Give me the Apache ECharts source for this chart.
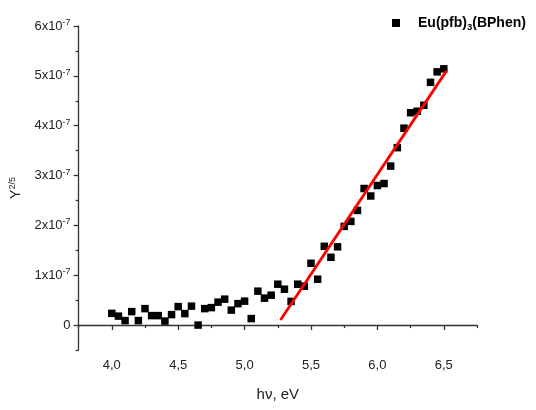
<!DOCTYPE html>
<html><head><meta charset="utf-8">
<script src="https://cdn.jsdelivr.net/npm/echarts@6/dist/echarts.min.js"></script>
<style>html,body{margin:0;padding:0;background:#fff}#c{width:536px;height:410px}</style>
</head><body><div id="c"></div>
<script>
// photon energy, eV
var energy = [4.00,4.05,4.10,4.15,4.20,4.25,4.30,4.35,4.40,4.45,4.50,4.55,4.60,4.65,4.70,4.75,4.80,4.85,4.90,4.95,5.00,5.05,5.10,5.15,5.20,5.25,5.30,5.35,5.40,5.45,5.50,5.55,5.60,5.65,5.70,5.75,5.80,5.85,5.90,5.95,6.00,6.05,6.10,6.15,6.20,6.25,6.30,6.35,6.40,6.45,6.50];
// Y^(2/5), in units of 1e-7
var yield25 = [0.235,0.18,0.09,0.27,0.09,0.33,0.19,0.19,0.08,0.21,0.37,0.23,0.38,0.0,0.33,0.35,0.46,0.52,0.30,0.43,0.48,0.13,0.68,0.54,0.60,0.82,0.72,0.475,0.82,0.78,1.24,0.92,1.58,1.36,1.57,1.98,2.08,2.30,2.74,2.59,2.80,2.84,3.19,3.56,3.95,4.26,4.29,4.41,4.87,5.08,5.14];
// linear fit endpoints
var fitX = [5.27, 6.52];
var fitY = [0.10, 5.10];
var xTicks = [4.0,4.5,5.0,5.5,6.0,6.5];
var xMinor = [3.75,4.25,4.75,5.25,5.75,6.25,6.75];
var yTicks = [0,1,2,3,4,5,6];
var yMinor = [-0.5,0.5,1.5,2.5,3.5,4.5,5.5];
var seriesName = 'Eu(pfb)3(BPhen)';

var pts = energy.map(function(x,i){return [x, yield25[i]];});
var fit = fitX.map(function(x,i){return [x, fitY[i]];});
var F = 'Arial, "Liberation Sans", sans-serif';
var axisCol = '#333';
var chart = echarts.init(document.getElementById('c'));
chart.setOption({
  animation:false,
  grid:{left:77,top:26,width:400,height:324},
  legend:{
    data:[{name:seriesName, icon:'rect'}],
    left:387, top:11, itemWidth:8, itemHeight:8,
    formatter:function(){return '{b|Eu(pfb)}{s|3}{b|(BPhen)}';},
    textStyle:{padding:[0,0,0,13],rich:{
      b:{fontFamily:F,fontWeight:'bold',fontSize:14,color:'#000'},
      s:{fontFamily:F,fontWeight:'bold',fontSize:9.5,color:'#000',verticalAlign:'bottom',padding:[9,0,0,0]}
    }}
  },
  xAxis:[{
    type:'value',min:3.75,max:6.75,
    name:'hν, eV',nameLocation:'middle',nameGap:37,
    nameTextStyle:{fontFamily:F,fontSize:15,color:'#222'},
    axisLine:{show:true,lineStyle:{color:axisCol,width:1.3}},
    axisTick:{show:true,customValues:xTicks,length:5,lineStyle:{color:axisCol,width:1.3}},
    axisLabel:{customValues:xTicks,fontFamily:F,fontSize:13,color:'#222',margin:9,
      formatter:function(v){return v.toFixed(1).replace('.',',');}},
    splitLine:{show:false}
  },{
    type:'value',min:3.75,max:6.75,position:'bottom',
    axisLine:{show:false},
    axisTick:{show:true,customValues:xMinor,length:3,lineStyle:{color:axisCol,width:1.3}},
    axisLabel:{show:false},splitLine:{show:false}
  }],
  yAxis:[{
    type:'value',min:-0.5,max:6,
    name:'{a|Y}{s|2/5}',nameLocation:'middle',nameGap:47,nameRotate:90,
    nameTextStyle:{rich:{a:{fontFamily:F,fontSize:14,color:'#222'},s:{fontFamily:F,fontSize:9,color:'#222',verticalAlign:'top',padding:[0,0,8,0]}}},
    axisLine:{show:true,lineStyle:{color:axisCol,width:1.3}},
    axisTick:{show:true,customValues:yTicks,length:5,lineStyle:{color:axisCol,width:1.3}},
    axisLabel:{customValues:yTicks,margin:8,
      formatter:function(v){var n=Math.round(v); return n===0?'{a|0}':'{a|'+n+'x10}{s|-7}';},
      rich:{a:{fontFamily:F,fontSize:13,color:'#222'},s:{fontFamily:F,fontSize:9,color:'#222',verticalAlign:'top',padding:[0,0,7,0]}}},
    splitLine:{show:false}
  },{
    type:'value',min:-0.5,max:6,position:'left',
    axisLine:{show:false},
    axisTick:{show:true,customValues:yMinor,length:3,lineStyle:{color:axisCol,width:1.3}},
    axisLabel:{show:false},splitLine:{show:false}
  }],
  series:[{
    name:seriesName,type:'scatter',data:pts,symbol:'rect',symbolSize:7.5,
    itemStyle:{color:'#000',opacity:1},z:2
  },{
    name:'fit',type:'line',data:fit,symbol:'none',
    lineStyle:{color:'#ff0000',width:2.8},z:3
  }]
});
</script></body></html>
